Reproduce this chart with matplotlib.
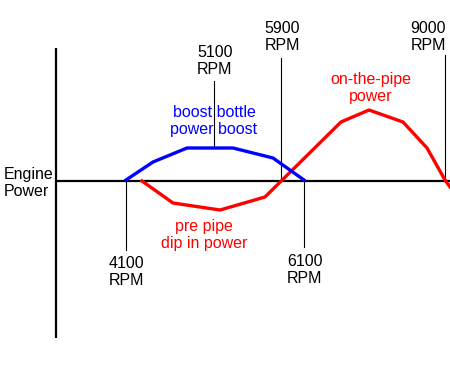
"""Engine power sketch: boost bottle vs pipe power band."""

import matplotlib
import matplotlib.pyplot as plt

matplotlib.use("agg")

# horizontal position (sketch units) and relative engine power
boost_x = [126, 153, 187, 233, 273, 304]
boost_power = [1, 19, 33, 33, 23, 1]

pipe_x = [142, 173, 220, 265, 341, 369, 403, 427, 445, 450]
pipe_power = [0, -22, -29, -16, 59, 71, 59, 33, 1, -6]

rpm_labels = ["4100", "5100", "5900", "6100", "9000"]
rpm_x = [126, 214, 281, 304, 445]
rpm_line_from = [0, 33, 0, 0, 0]
rpm_line_to = [-69, 100, 123, -66, 126]

plt.rcParams["font.family"] = ["Liberation Sans", "DejaVu Sans"]

fig = plt.figure(figsize=(4.5, 3.75), dpi=100)
ax = fig.add_axes([0, 0, 1, 1])
ax.set_xlim(0, 450)
ax.set_ylim(-194, 181)
ax.axis("off")

# axes of the sketch
ax.plot([56, 56], [133, -157], color="black", lw=1.6, solid_capstyle="butt")
ax.plot([56, 450], [0, 0], color="black", lw=1.6, solid_capstyle="butt")

# rpm markers
for x, y0, y1 in zip(rpm_x, rpm_line_from, rpm_line_to):
    ax.plot([x, x], [y0, y1], color="black", lw=0.8)

ax.plot(pipe_x, pipe_power, color="#ff0000", lw=2.4, solid_joinstyle="round")
ax.plot(boost_x, boost_power, color="#0000ff", lw=2.4, solid_joinstyle="round")

fs = 11.5
ls = 1.12
label_pos = {
    "4100": (126, -91),
    "5100": (215, 120),
    "5900": (282, 144),
    "6100": (305, -89),
    "9000": (428, 144),
}
for lab in rpm_labels:
    x, y = label_pos[lab]
    ax.text(x, y, f"{lab}\nRPM", ha="center", va="center", fontsize=fs,
            linespacing=ls)

ax.text(4, -2, "Engine\nPower", ha="left", va="center", fontsize=fs,
        linespacing=ls)
ax.text(214, 60, "boost bottle\npower boost", ha="center", va="center",
        fontsize=fs, color="#0000ff", linespacing=ls)
ax.text(371, 93, "on-the-pipe\npower", ha="center", va="center",
        fontsize=fs, color="#ff0000", linespacing=ls)
ax.text(204, -54, "pre pipe\ndip in power", ha="center", va="center",
        fontsize=fs, color="#ff0000", linespacing=ls)

fig.savefig("out.png", dpi=100)
